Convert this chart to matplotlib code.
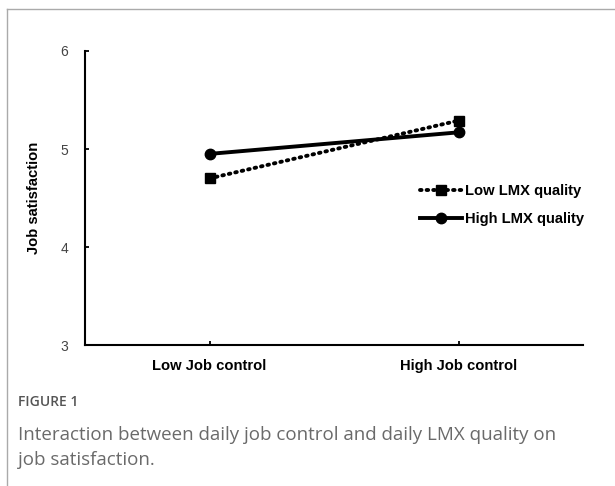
import matplotlib.pyplot as plt
from matplotlib.lines import Line2D

# data
categories = ["Low Job control", "High Job control"]
low_lmx = [4.70, 5.29]
high_lmx = [4.95, 5.17]
series_names = ["Low LMX quality", "High LMX quality"]
y_ticks = [3, 4, 5, 6]

caption_title = "FIGURE 1"
caption_text = "Interaction between daily job control and daily LMX quality on\njob satisfaction."

plt.rcParams["font.family"] = ["Liberation Sans", "DejaVu Sans"]

fig = plt.figure(figsize=(6.15, 4.86), dpi=100)
ax = fig.add_axes([85 / 615, 1 - 345 / 486, 498 / 615, 294 / 486])

x = [0.5, 1.5]
ax.plot(x, low_lmx, color="black", linewidth=2.8, linestyle=(0, (0.4, 1.3)),
        dash_capstyle="round", marker="s", markersize=7, label=series_names[0])
ax.plot(x, high_lmx, color="black", linewidth=2.8, linestyle="-",
        marker="o", markersize=7.5, label=series_names[1])

ax.set_xlim(0, 2)
ax.set_ylim(3, 6)
ax.set_xticks(x)
ax.set_xticklabels(categories, fontsize=10.6, fontweight="bold")
ax.set_yticks(y_ticks)
ax.set_yticklabels([str(v) for v in y_ticks], fontsize=10, color="#444444")
ax.tick_params(axis="both", direction="in", length=3, width=1.3, color="black")
ax.tick_params(axis="x", pad=10)
ax.tick_params(axis="y", pad=12)
ax.set_ylabel("Job satisfaction", fontsize=10.6, fontweight="bold", labelpad=14)

for side in ["top", "right"]:
    ax.spines[side].set_visible(False)
for side in ["left", "bottom"]:
    ax.spines[side].set_linewidth(1.5)
    ax.spines[side].set_color("black")

leg = ax.legend(loc="center left", bbox_to_anchor=(0.672, 0.475), frameon=False,
                handlelength=2.9, handletextpad=0.15, labelspacing=0.95,
                borderpad=0, borderaxespad=0, prop={"size": 10.6, "weight": "bold"})

# page frame lines
fig.add_artist(Line2D([7 / 615, 1], [1 - 9 / 486, 1 - 9 / 486], color="#aaaaaa", linewidth=1))
fig.add_artist(Line2D([7 / 615, 7 / 615], [0, 1 - 9 / 486], color="#aaaaaa", linewidth=1))

fig.text(18 / 615, 1 - 402 / 486, caption_title, fontsize=10, color="#555555",
         family="Open Sans", fontweight="semibold", va="center")
fig.text(18 / 615, 1 - 426 / 486, caption_text, fontsize=13.5, color="#6a6a6a",
         family="Open Sans", va="top", linespacing=1.5)

fig.savefig("out.png", dpi=100)
